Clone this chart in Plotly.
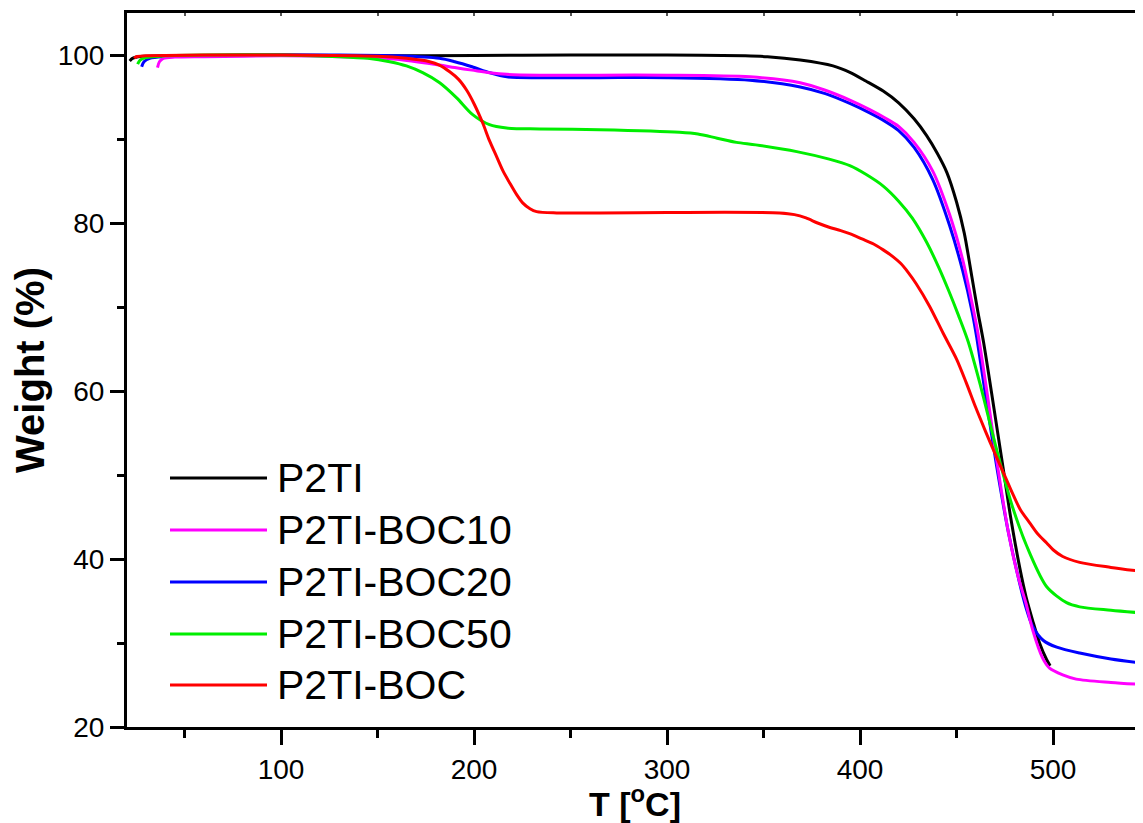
import plotly.graph_objects as go

names = ["P2TI", "P2TI-BOC10", "P2TI-BOC20", "P2TI-BOC50", "P2TI-BOC"]
colors = ["#000000", "#ff00ff", "#0000ff", "#00ee00", "#ff0000"]

t_p2ti = [21.6, 23, 26, 30, 40, 60, 100, 150, 200, 250, 300, 340, 352, 369, 386, 395, 403, 412, 420,
          428, 434.5, 440, 445, 450, 454, 458, 461, 464, 468, 474, 478, 482.7, 486, 489.4, 493, 496.7, 498.5]
w_p2ti = [99.3, 99.6, 99.8, 99.85, 99.9, 99.95, 100, 99.9, 99.95, 100, 100, 99.9, 99.8, 99.4, 98.7, 97.9,
          96.9, 95.7, 94.3, 92.4, 90.4, 88.3, 86.0, 82.5, 78.8, 73.5, 69.5, 65.8, 60.0, 51.0, 45.0, 39.0,
          35.5, 32.7, 30.0, 28.0, 27.3]

t_boc10 = [36, 37, 39, 45, 60, 100, 130, 160, 182, 190, 199, 208, 217, 234, 265, 300, 343, 369, 382, 395,
           405, 413, 420, 428, 437.6, 446.4, 453.2, 458, 461, 466, 471.3, 477, 482, 486, 489.5, 494.6, 498.2,
           505, 512, 530, 550]
w_boc10 = [98.5, 99.2, 99.6, 99.75, 99.8, 99.9, 99.8, 99.5, 98.8, 98.5, 98.2, 97.9, 97.7, 97.6, 97.6, 97.6,
           97.4, 96.7, 95.8, 94.6, 93.5, 92.5, 91.5, 89.6, 86.2, 81.0, 75.6, 70.5, 67.0, 59.5, 51.0, 43.0,
           37.8, 34.7, 31.5, 28.2, 27.0, 26.2, 25.7, 25.3, 25.0]

t_boc20 = [27.8, 29, 32, 40, 60, 100, 130, 160, 182, 190, 199, 208, 217, 234, 265, 300, 343, 369, 382, 395,
           405, 413, 420, 428, 437.6, 446.4, 453.2, 458, 460.5, 465, 470.8, 477, 482.7, 486, 489.4, 495,
           501.9, 513.8, 530, 550]
w_boc20 = [98.6, 99.2, 99.6, 99.8, 99.9, 100, 100, 99.9, 99.6, 99.2, 98.6, 97.9, 97.4, 97.3, 97.3, 97.3,
           97.0, 96.2, 95.4, 94.2, 93.1, 92.1, 91.0, 89.0, 85.2, 79.7, 74.3, 69.5, 66.3, 59.5, 51.0, 43.0,
           37.1, 34.2, 32.0, 30.3, 29.5, 28.8, 28.1, 27.5]

t_boc50 = [25.7, 27, 30, 40, 60, 100, 130.4, 145, 156.3, 165, 173.4, 182.2, 191, 199.3, 208, 216.9, 234, 265,
           306.5, 316, 326, 336, 346, 367.2, 384, 395, 403, 412, 420, 427, 434.5, 441, 446, 451, 456, 462,
           470.8, 479, 487.9, 496.7, 507, 513.8, 530, 550]
w_boc50 = [98.9, 99.4, 99.7, 99.9, 100, 100, 99.8, 99.6, 99.2, 98.7, 97.9, 96.7, 94.9, 92.9, 91.7, 91.3, 91.2,
           91.1, 90.8, 90.6, 90.1, 89.6, 89.3, 88.5, 87.6, 86.8, 85.8, 84.4, 82.6, 80.6, 77.7, 74.6, 71.9,
           69.0, 65.9, 61.0, 53.0, 46.2, 40.7, 36.7, 34.8, 34.3, 33.9, 33.5]

t_boc = [24, 25, 30, 60, 100, 150, 165, 177, 182, 187.4, 192, 196.2, 200, 204.5, 208, 211.7, 215, 218.4, 222,
         225.2, 229, 232.4, 242.8, 265, 300, 358.3, 366, 372, 378, 384, 390, 395, 401, 407, 412, 417, 421,
         425, 429, 436, 443, 450, 455, 460, 465, 470, 475, 479, 483, 487.9, 492, 496.7, 500, 505, 513.8,
         530, 550]
w_boc = [99.6, 99.8, 99.9, 100, 100, 99.85, 99.6, 99.2, 98.8, 98.0, 97.1, 95.8, 94.2, 91.9, 89.8, 87.9, 86.2,
         84.8, 83.4, 82.4, 81.7, 81.35, 81.2, 81.2, 81.25, 81.2, 81.0, 80.6, 80.0, 79.5, 79.1, 78.7, 78.1,
         77.5, 76.8, 76.0, 75.2, 74.1, 72.8, 70.1, 66.9, 63.8, 61.0, 58.0, 55.2, 52.5, 49.9, 47.8, 45.9,
         44.3, 43.0, 41.9, 41.1, 40.3, 39.6, 39.0, 38.4]

series = {
    "P2TI": (t_p2ti, w_p2ti),
    "P2TI-BOC10": (t_boc10, w_boc10),
    "P2TI-BOC20": (t_boc20, w_boc20),
    "P2TI-BOC50": (t_boc50, w_boc50),
    "P2TI-BOC": (t_boc, w_boc),
}
draw_order = ["P2TI", "P2TI-BOC20", "P2TI-BOC10", "P2TI-BOC50", "P2TI-BOC"]

x_range = [20.2, 546.6]
y_range = [20, 105]
x_ticks = [100, 200, 300, 400, 500]
y_ticks = [20, 40, 60, 80, 100]

fig = go.Figure()
for nm in draw_order:
    t, w = series[nm]
    fig.add_trace(go.Scatter(x=t, y=w, mode="lines", name=nm, showlegend=False,
                             line=dict(color=colors[names.index(nm)], width=3, shape="spline", smoothing=0.8)))

# invisible trace for top axis
fig.add_trace(go.Scatter(x=[x_range[0]], y=[y_range[0]], xaxis="x2", mode="lines",
                         showlegend=False, hoverinfo="skip", line=dict(color="rgba(0,0,0,0)")))

# the page body has an 8px margin, so the figure is sized to the visible area
OFF = 8
W, H = 1143 - OFF, 823 - OFF
ml, mr, mt, mb = 127 - OFF, 0, 13 - OFF, 96
pw, ph = W - ml - mr, H - mt - mb

font_family = "Liberation Sans, Arial, sans-serif"

# legend drawn manually (long sample lines as in reference); positions in screen pixels
leg_y = [478, 530, 582, 634, 685]
for i, nm in enumerate(names):
    yp = (H - mb - (leg_y[i] - OFF)) / ph
    fig.add_shape(type="line", xref="paper", yref="paper",
                  x0=(170 - 127) / pw, x1=(267 - 127) / pw, y0=yp, y1=yp,
                  line=dict(color=colors[i], width=3))
    fig.add_annotation(xref="paper", yref="paper", x=(275 - 127) / pw, y=yp,
                       xanchor="left", yanchor="middle", text=nm, showarrow=False,
                       font=dict(family=font_family, size=41, color="black"))

fig.update_layout(
    width=W, height=H,
    margin=dict(l=ml, r=mr, t=mt, b=mb, autoexpand=False),
    paper_bgcolor="white", plot_bgcolor="white",
    font=dict(family=font_family, color="black"),
    xaxis=dict(range=x_range, tickvals=x_ticks, ticks="outside", ticklen=15, tickwidth=3,
               tickcolor="black", showline=True, linewidth=3, linecolor="black", mirror=False,
               showgrid=False, zeroline=False, tickfont=dict(size=28), automargin=False,
               minor=dict(dtick=50, tick0=0, ticks="outside", ticklen=8, tickwidth=3, tickcolor="black"),
               title=dict(text="<b>T [<sup>o</sup>C]</b>", font=dict(size=34), standoff=0)),
    xaxis2=dict(range=x_range, overlaying="x", side="top", showline=True, linewidth=3, linecolor="black",
                ticks="inside", ticklen=3, tickwidth=2, tickcolor="#555", dtick=50, tick0=0,
                showticklabels=False, showgrid=False, zeroline=False, automargin=False),
    yaxis=dict(range=y_range, tickvals=y_ticks, ticks="outside", ticklen=14, tickwidth=3,
               tickcolor="black", showline=True, linewidth=3, linecolor="black", automargin=False,
               showgrid=False, zeroline=False, tickfont=dict(size=28),
               minor=dict(dtick=10, tick0=0, ticks="outside", ticklen=7, tickwidth=3, tickcolor="black"),
               title=dict(text="<b>Weight (%)</b>", font=dict(size=40), standoff=5)),
)

fig.write_html("out.html")
